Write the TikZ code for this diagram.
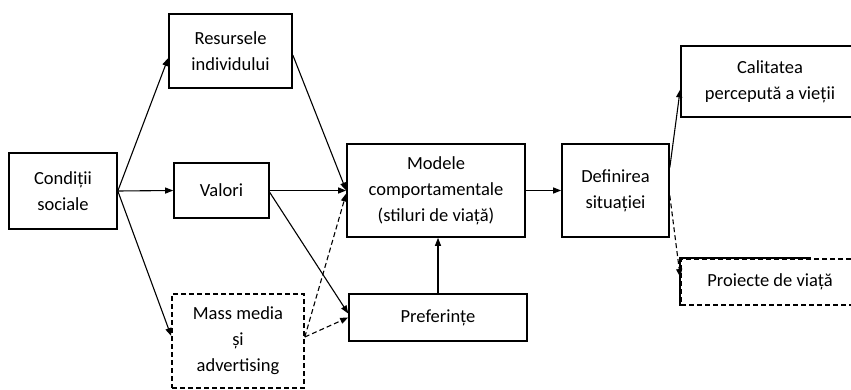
\documentclass[tikz,border=0pt]{standalone}
\usepackage{fontspec}
\setmainfont{Carlito}
\usetikzlibrary{arrows.meta}
\begin{document}
\begin{tikzpicture}[x=1pt,y=-1pt,
  box/.style={draw, line width=1.6pt, align=center, inner sep=0pt,
    font=\fontsize{18.5}{26}\selectfont},
  dbox/.style={box, dash pattern=on 5pt off 3pt},
  arr/.style={line width=1.1pt, -{Triangle[length=8pt,width=6pt]}},
  darr/.style={arr, dash pattern=on 5pt off 3pt}]
\useasboundingbox (0,0) rectangle (851,390);
\node[box, minimum width=108pt, minimum height=76pt] (cond) at (63,191) {Condiții\\sociale};
\node[box, minimum width=123pt, minimum height=74pt] (res) at (230.5,51) {Resursele\\individului};
\node[box, minimum width=95pt, minimum height=55pt] (val) at (221.5,190.5) {Valori};
\node[dbox, minimum width=132pt, minimum height=94pt] (mass) at (238,341) {Mass media\\și\\advertising};
\node[box, minimum width=178pt, minimum height=93pt] (mod) at (436,190.5) {Modele\\comportamentale\\(stiluri de viață)};
\node[box, minimum width=178pt, minimum height=47pt] (pref) at (438,317.5) {Preferințe};
\node[box, minimum width=107pt, minimum height=93pt] (def) at (615.5,190.5) {Definirea\\situației};
\node[box, minimum width=178pt, minimum height=71pt] (cal) at (770,81.5) {Calitatea\\percepută a vieții};
\node[dbox, minimum width=178pt, minimum height=46pt] (proj) at (770,282) {Proiecte de viață};
\draw[line width=1.6pt] (proj.south west) -- (proj.north west) -- ([xshift=-49pt]proj.north east);

\draw[arr] (cond.east) -- ([yshift=-7pt]res.west);
\draw[arr] (cond.east) -- (val.west);
\draw[arr] (cond.east) -- ([yshift=5pt]mass.west);
\draw[arr] ([yshift=-4pt]res.east) -- (mod.west);
\draw[arr] (val.east) -- (mod.west);
\draw[arr] ([yshift=-2pt]val.east) -- ([yshift=4pt]pref.west);
\draw[darr] ([yshift=4pt]mass.east) -- ([yshift=-3pt]mod.west);
\draw[darr] ([yshift=4pt]mass.east) -- (pref.west);
\draw[arr] (pref.north) -- (pref.north |- mod.south);
\draw[arr] (mod.east) -- (def.west);
\draw[arr] ([yshift=23pt]def.east) -- ([yshift=-8pt]cal.west);
\draw[darr] ([yshift=-5pt]def.east) -- ([yshift=5pt]proj.west);
\end{tikzpicture}
\end{document}
